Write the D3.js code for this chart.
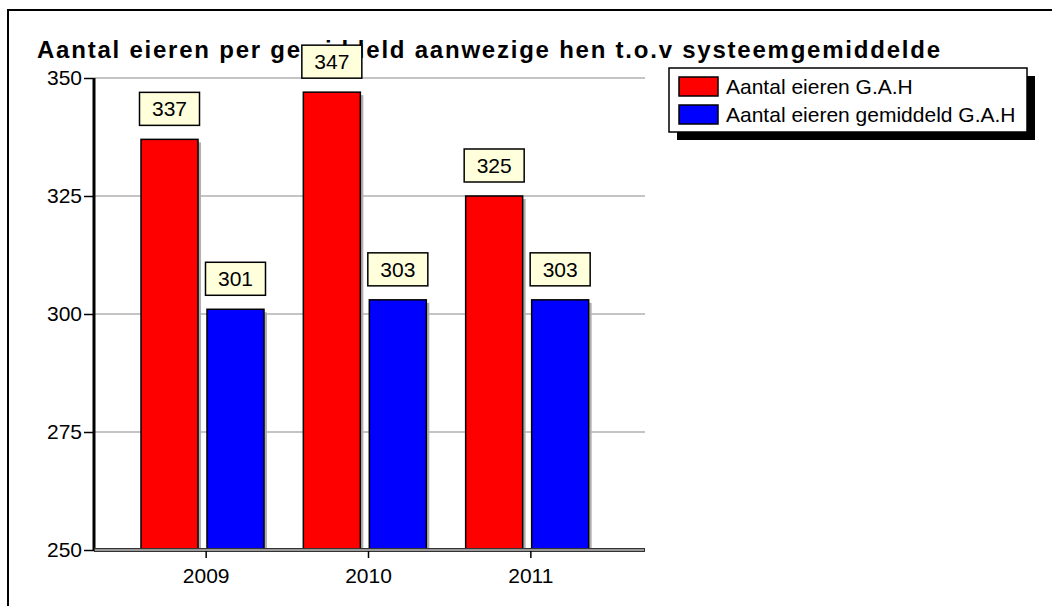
<!DOCTYPE html>
<html>
<head>
<meta charset="utf-8">
<script src="https://cdn.jsdelivr.net/npm/d3@7"></script>
<style>
  body { margin: 0; background: #fff; }
  text { font-family: "Liberation Sans", Arial, sans-serif; }
</style>
</head>
<body>
<div id="root"></div>
<script>
// data
var years = ["2009", "2010", "2011"];
var seriesNames = ["Aantal eieren G.A.H", "Aantal eieren gemiddeld G.A.H"];
var eieren = [337, 347, 325];
var eierenGemiddeld = [301, 303, 303];
var yTicks = [250, 275, 300, 325, 350];
var colors = ["#ff0000", "#0000ff"];

var W = 1052, H = 606;
var fs = 21;

var svg = d3.select("#root")
            .append("svg")
            .attr("width", W)
            .attr("height", H);

// outer frame
svg.append("rect")
  .attr("x", 8).attr("y", 10)
  .attr("width", W).attr("height", H)
  .attr("fill", "none").attr("stroke", "#000").attr("stroke-width", 2);

// title
svg.append("text")
  .attr("x", 37).attr("y", 58)
  .attr("font-size", 24).attr("font-weight", "bold")
  .attr("textLength", 903).attr("lengthAdjust", "spacing")
  .text("Aantal eieren per gemiddeld aanwezige hen t.o.v systeemgemiddelde");

// scales
var y = d3.scaleLinear().domain([250, 350]).range([550, 78]);
var x0 = d3.scaleBand().domain(years).range([125, 612]);
var x1 = d3.scaleBand().domain(seriesNames).range([16, 139]).paddingInner(0.136);

// gridlines
svg.append("g")
  .selectAll("line")
  .data(yTicks.filter(function (d) { return d > 250; }))
  .enter()
  .append("line")
    .attr("x1", 94).attr("x2", 645)
    .attr("y1", function (d) { return y(d); })
    .attr("y2", function (d) { return y(d); })
    .attr("stroke", "#c4c4c4").attr("stroke-width", 2);

// bars
var rows = years.map(function (yr, i) {
  return {year: yr, vals: [eieren[i], eierenGemiddeld[i]]};
});

var groups = svg.append("g")
  .selectAll("g")
  .data(rows)
  .enter()
  .append("g")
    .attr("transform", function (d) { return "translate(" + x0(d.year) + ",0)"; });

var cells = groups.selectAll("g")
  .data(function (d) {
    return d.vals.map(function (v, j) { return {name: seriesNames[j], v: v, j: j}; });
  })
  .enter()
  .append("g");

// shadow
cells.append("rect")
  .attr("x", function (d) { return x1(d.name) + 3; })
  .attr("y", function (d) { return y(d.v) + 3; })
  .attr("width", x1.bandwidth())
  .attr("height", function (d) { return 550 - y(d.v) - 3; })
  .attr("fill", "#b0b0b0");

cells.append("rect")
  .attr("x", function (d) { return x1(d.name); })
  .attr("y", function (d) { return y(d.v); })
  .attr("width", x1.bandwidth())
  .attr("height", function (d) { return 550 - y(d.v); })
  .attr("fill", function (d) { return colors[d.j]; })
  .attr("stroke", "#000").attr("stroke-width", 1.5);

// value labels
cells.append("rect")
  .attr("x", function (d) { return x1(d.name) + x1.bandwidth() / 2 - 30; })
  .attr("y", function (d) { return y(d.v) - 47; })
  .attr("width", 60).attr("height", 33)
  .attr("fill", "#ffffdc").attr("stroke", "#000").attr("stroke-width", 1.5);

cells.append("text")
  .attr("x", function (d) { return x1(d.name) + x1.bandwidth() / 2; })
  .attr("y", function (d) { return y(d.v) - 23; })
  .attr("text-anchor", "middle")
  .attr("font-size", fs)
  .text(function (d) { return d.v; });

// y axis
var yAxis = svg.append("g")
  .attr("transform", "translate(94,0)")
  .call(d3.axisLeft(y).tickValues(yTicks).tickSize(10).tickPadding(2));
yAxis.select(".domain").attr("stroke-width", 3).attr("d", "M0," + y(350) + "V" + y(250));
yAxis.selectAll(".tick line").attr("stroke-width", 1.5);
yAxis.selectAll(".tick text").attr("font-size", fs).attr("font-family", "Liberation Sans, Arial, sans-serif").attr("fill", "#000");

// x axis
var xAxis = svg.append("g")
  .attr("transform", "translate(0,550)")
  .call(d3.axisBottom(x0).tickSize(8).tickPadding(10));
xAxis.select(".domain").attr("d", "M94,0H645").attr("stroke", "#333").attr("stroke-width", 4);
xAxis.append("line").attr("x1", 95).attr("x2", 644).attr("stroke", "#999").attr("stroke-width", 2);
xAxis.selectAll(".tick line").attr("stroke-width", 1.5);
xAxis.selectAll(".tick text").attr("font-size", fs).attr("font-family", "Liberation Sans, Arial, sans-serif").attr("fill", "#000");

// legend
var legend = svg.append("g");
legend.append("rect")
  .attr("x", 677).attr("y", 76).attr("width", 358).attr("height", 64)
  .attr("fill", "#000");
legend.append("rect")
  .attr("x", 669).attr("y", 68).attr("width", 358).attr("height", 64)
  .attr("fill", "#fff").attr("stroke", "#000").attr("stroke-width", 1.5);

var items = legend.selectAll("g.item")
  .data(seriesNames)
  .enter()
  .append("g")
    .attr("class", "item")
    .attr("transform", function (d, i) { return "translate(679," + (77 + i * 28) + ")"; });

items.append("rect")
  .attr("width", 39).attr("height", 19)
  .attr("fill", function (d, i) { return colors[i]; })
  .attr("stroke", "#000").attr("stroke-width", 1.5);

items.append("text")
  .attr("x", 47).attr("y", 17)
  .attr("font-size", fs)
  .text(function (d) { return d; });
</script>
</body>
</html>
